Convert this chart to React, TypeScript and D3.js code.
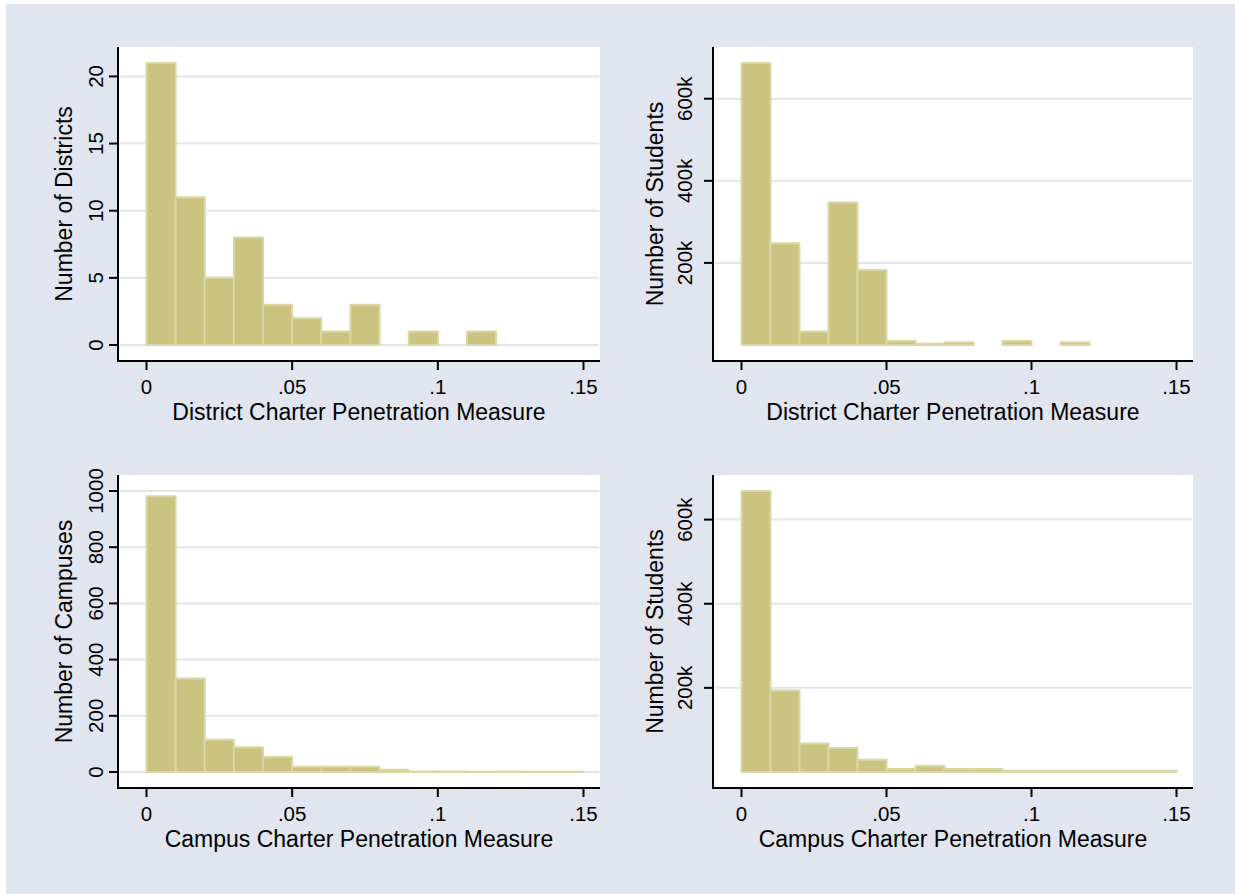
import { useRef, useEffect } from "react";
import * as d3 from "d3";

// histogram bins, width .01, starting at 0
const binEdges = [0, 0.01, 0.02, 0.03, 0.04, 0.05, 0.06, 0.07, 0.08, 0.09, 0.1, 0.11, 0.12, 0.13, 0.14, 0.15];

const districtCount = [21, 11, 5, 8, 3, 2, 1, 3, 0, 1, 0, 1];
const districtStudents = [687000, 248000, 33000, 347000, 183000, 10000, 3000, 7000, 0, 10000, 0, 7000];
const campusCount = [981, 333, 115, 88, 54, 19, 19, 19, 8, 2, 2, 1, 2, 1, 1];
const campusStudents = [668000, 194000, 68000, 57000, 29000, 7000, 15000, 7000, 7000, 3000, 3000, 3000, 3000, 3000, 3000];

const xTicks = [0, 0.05, 0.1, 0.15];
const xTickLabels = ["0", ".05", ".1", ".15"];
const countTicksDistrict = [0, 5, 10, 15, 20];
const countTicksCampus = [0, 200, 400, 600, 800, 1000];
const studentTicks = [200000, 400000, 600000];
const studentTickLabels = ["200k", "400k", "600k"];

const W = 1235;
const H = 894;
const bg = "#e1e5ef";
const barFill = "#cac480";
const barStroke = "#dad7a4";
const font = "'Liberation Sans', Arial, sans-serif";
const tickSize = "20.5px";
const titleSize = "23px";

export default function App() {
    const svgRef = useRef(null);

    useEffect(() => {
        const svg = d3.select(svgRef.current).html(null);

        svg.append("rect").attr("width", W).attr("height", H).attr("fill", "#fff");
        svg.append("rect").attr("x", 6).attr("y", 4).attr("width", W - 6).attr("height", H - 4).attr("fill", bg);

        const panels = [
            { left: 118, right: 600, top: 47, bottom: 361, values: districtCount, yTicks: countTicksDistrict, yLabels: countTicksDistrict.map(String), yTitle: "Number of Districts", xTitle: "District Charter Penetration Measure", tickOff: 15, titleOff: 46 },
            { left: 713, right: 1193, top: 47, bottom: 361, values: districtStudents, yTicks: studentTicks, yLabels: studentTickLabels, yTitle: "Number of Students", xTitle: "District Charter Penetration Measure", tickOff: 21, titleOff: 50 },
            { left: 118, right: 600, top: 475, bottom: 788, values: campusCount, yTicks: countTicksCampus, yLabels: countTicksCampus.map(String), yTitle: "Number of Campuses", xTitle: "Campus Charter Penetration Measure", tickOff: 15, titleOff: 46 },
            { left: 713, right: 1193, top: 475, bottom: 788, values: campusStudents, yTicks: studentTicks, yLabels: studentTickLabels, yTitle: "Number of Students", xTitle: "Campus Charter Penetration Measure", tickOff: 21, titleOff: 50 },
        ];

        panels.forEach(p => {
            const g = svg.append("g");
            const x = d3.scaleLinear().domain([0, 0.15]).range([p.left + 28.5, p.right - 16.5]);
            const yMax = Math.max(d3.max(p.values), d3.max(p.yTicks));
            const y = d3.scaleLinear().domain([0, yMax]).range([p.bottom - 16, p.top + 16]);

            // plot region
            g.append("rect")
                .attr("x", p.left).attr("y", p.top)
                .attr("width", p.right - p.left).attr("height", p.bottom - p.top)
                .attr("fill", "#fff");

            // gridlines
            g.selectAll(".grid").data(p.yTicks).enter().append("line")
                .attr("x1", p.left + 2).attr("x2", p.right - 1)
                .attr("y1", d => y(d)).attr("y2", d => y(d))
                .attr("stroke", bg).attr("stroke-width", 2);

            // bars
            const bins = p.values.map((v, i) => ({ x0: binEdges[i], x1: binEdges[i + 1], v })).filter(b => b.v > 0);
            g.selectAll(".bar").data(bins).enter().append("rect")
                .attr("x", d => x(d.x0))
                .attr("width", d => x(d.x1) - x(d.x0))
                .attr("y", d => y(d.v))
                .attr("height", d => y(0) - y(d.v))
                .attr("fill", barFill)
                .attr("stroke", barStroke)
                .attr("stroke-width", 2)
                .attr("stroke-linejoin", "round");

            // axes
            g.append("line")
                .attr("x1", p.left).attr("x2", p.left)
                .attr("y1", p.top).attr("y2", p.bottom + 1)
                .attr("stroke", "#000").attr("stroke-width", 2);
            g.append("line")
                .attr("x1", p.left - 1).attr("x2", p.right)
                .attr("y1", p.bottom).attr("y2", p.bottom)
                .attr("stroke", "#000").attr("stroke-width", 2);

            // y ticks
            p.yTicks.forEach((t, i) => {
                g.append("line")
                    .attr("x1", p.left - 9).attr("x2", p.left)
                    .attr("y1", y(t)).attr("y2", y(t))
                    .attr("stroke", "#000").attr("stroke-width", 2);
                g.append("text")
                    .attr("transform", `translate(${p.left - p.tickOff},${y(t)}) rotate(-90)`)
                    .attr("text-anchor", "middle")
                    .style("font-family", font).style("font-size", tickSize)
                    .text(p.yLabels[i]);
            });

            // x ticks
            xTicks.forEach((t, i) => {
                g.append("line")
                    .attr("x1", x(t)).attr("x2", x(t))
                    .attr("y1", p.bottom).attr("y2", p.bottom + 9)
                    .attr("stroke", "#000").attr("stroke-width", 2);
                g.append("text")
                    .attr("x", x(t)).attr("y", p.bottom + 33)
                    .attr("text-anchor", "middle")
                    .style("font-family", font).style("font-size", tickSize)
                    .text(xTickLabels[i]);
            });

            // titles
            g.append("text")
                .attr("x", (p.left + p.right) / 2).attr("y", p.bottom + 59)
                .attr("text-anchor", "middle")
                .style("font-family", font).style("font-size", titleSize)
                .text(p.xTitle);
            g.append("text")
                .attr("transform", `translate(${p.left - p.titleOff},${(p.top + p.bottom) / 2}) rotate(-90)`)
                .attr("text-anchor", "middle")
                .style("font-family", font).style("font-size", titleSize)
                .text(p.yTitle);
        });
    }, []);

    return <svg ref={svgRef} width={W} height={H} style={{ position: "absolute", left: 0, top: 0 }}></svg>;
}
